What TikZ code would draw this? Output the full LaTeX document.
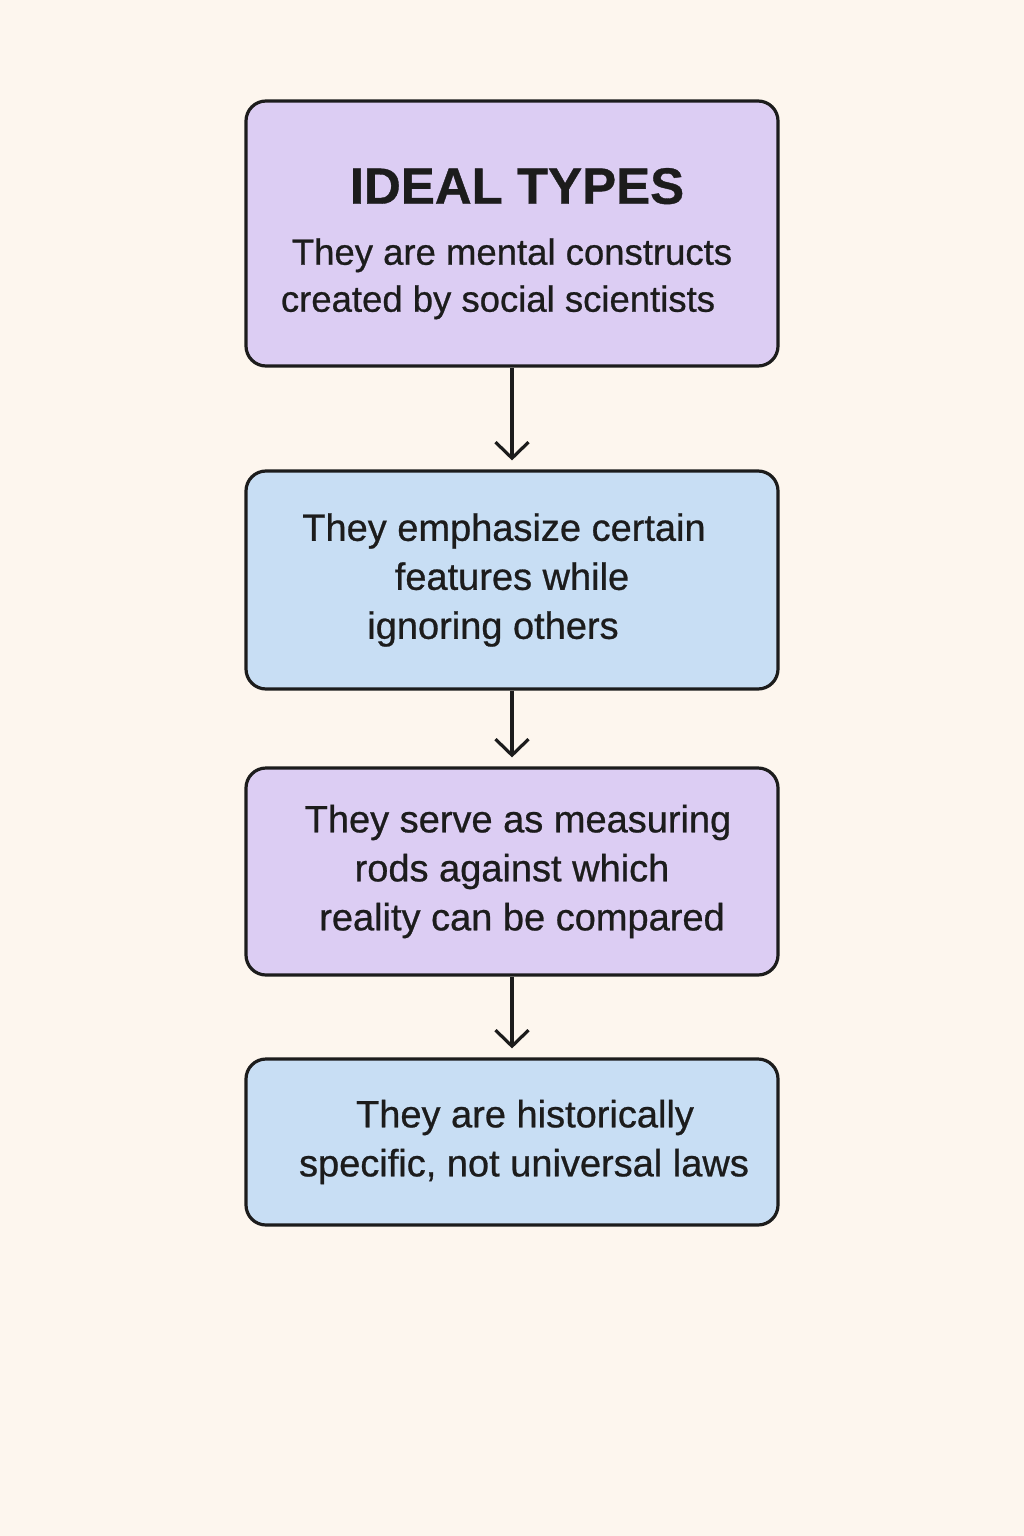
\documentclass[tikz,border=0pt]{standalone}
\usepackage{fontspec}
\setmainfont{Liberation Sans}
\usetikzlibrary{arrows.meta}
\definecolor{bgcol}{HTML}{FDF6EE}
\definecolor{lilac}{HTML}{DCCDF3}
\definecolor{skyb}{HTML}{C8DEF4}
\definecolor{inkc}{HTML}{1C1C1C}
\newcommand{\shr}[2]{\hspace*{#1pt}#2}
\newcommand{\shl}[2]{#2\hspace*{#1pt}}
\tikzset{
  box/.style={draw=inkc, line width=3.2pt, rounded corners=20pt, minimum width=532pt, align=center, text=inkc, inner sep=0pt, font=\fontsize{38}{49}\selectfont\addfontfeatures{FakeBold=0.7}},
  flow/.style={draw=inkc, line width=3.2pt, -{Straight Barb[length=16pt,width=33pt,line width=3.2pt]}, shorten >=9pt}
}
\begin{document}
\begin{tikzpicture}[x=1pt,y=-1pt]
\fill[bgcol] (0,0) rectangle (1024,1536);
\useasboundingbox (0,0) rectangle (1024,1536);
\node[box, fill=lilac, minimum height=265pt, font=\fontsize{36.5}{47}\selectfont\addfontfeatures{FakeBold=0.7}] (b1) at (512,233.5) {\rule{0pt}{56pt}\shr{10}{\fontsize{51}{60}\selectfont\bfseries IDEAL TYPES}\\[14pt]\shl{29}{They are mental constructs}\\\shl{28}{created by social scientists}};
\node[box, fill=skyb, minimum height=218pt] (b2) at (512,580) {\shl{16}{They emphasize certain}\\\shl{12}{features while}\\\shl{38}{ignoring others}};
\node[box, fill=lilac, minimum height=207pt] (b3) at (512,871.5) {\shr{12}{They serve as measuring}\\\shl{2}{rods against which}\\\shr{20}{reality can be compared}};
\node[box, fill=skyb, minimum height=166pt] (b4) at (512,1142) {\shr{26}{They are historically}\\\shr{24}{specific, not universal laws}};
\draw[flow] (b1.south) -- (b2.north);
\draw[flow] (b2.south) -- (b3.north);
\draw[flow] (b3.south) -- (b4.north);
\end{tikzpicture}
\end{document}
